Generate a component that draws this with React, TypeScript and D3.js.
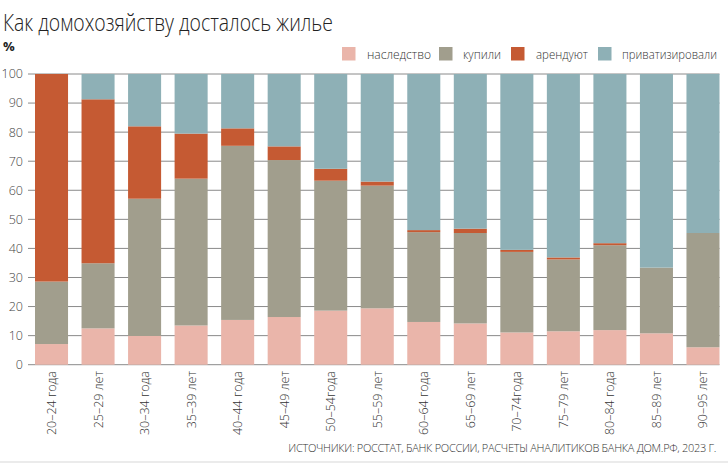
import React from 'react';
import * as d3 from 'd3';

const W = 728;
const H = 464;

const ageGroups = [
  '20–24 года', '25–29 лет', '30–34 года', '35–39 лет', '40–44 года',
  '45–49 лет', '50–54года', '55–59 лет', '60–64 года', '65–69 лет',
  '70–74года', '75–79 лет', '80–84 года', '85–89 лет', '90–95 лет',
];

// shares, %
const inherited = [7.1, 12.5, 9.9, 13.5, 15.4, 16.4, 18.6, 19.4, 14.7, 14.2, 11.1, 11.5, 11.9, 10.8, 6.0];
const bought = [21.5, 22.4, 47.2, 50.5, 59.9, 54.0, 44.7, 42.2, 30.9, 31.1, 27.7, 24.7, 29.2, 22.6, 39.3];
const rented = [71.4, 56.4, 24.9, 15.5, 6.0, 4.7, 4.1, 1.4, 0.7, 1.5, 0.7, 0.7, 0.7, 0, 0];
const privatized = [0, 8.7, 18.0, 20.5, 18.7, 24.9, 32.6, 37.0, 53.7, 53.2, 60.5, 63.1, 58.2, 66.6, 54.7];

const seriesNames = ['наследство', 'купили', 'арендуют', 'приватизировали'];
const seriesColors = ['#eab5aa', '#a19e8d', '#c55a33', '#8eb0b6'];
const yTicks = [0, 10, 20, 30, 40, 50, 60, 70, 80, 90, 100];

const FONT = '"Open Sans", "Noto Sans", sans-serif';

const App: React.FC = () => {
  const rows = ageGroups.map((age, i) => ({
    age,
    s0: inherited[i],
    s1: bought[i],
    s2: rented[i],
    s3: privatized[i],
  }));

  const stack = d3.stack<any>().keys(['s0', 's1', 's2', 's3']);
  const layers = stack(rows);

  const x = d3.scaleBand<string>()
    .domain(ageGroups)
    .range([35, 719.5])
    .paddingInner(0.29)
    .paddingOuter(0);

  const y = d3.scaleLinear().domain([0, 100]).range([364.7, 74]);

  // legend: square x, text x, text width
  const legendItems = [
    { sq: 342, tx: 367, w: 64 },
    { sq: 439, tx: 463, w: 38 },
    { sq: 511, tx: 536, w: 52 },
    { sq: 598, tx: 622, w: 95 },
  ];

  return (
    <svg
      width={W}
      height={H}
      style={{ position: 'absolute', left: 0, top: 0, background: '#fff' }}
      fontFamily={FONT}
    >
      {/* Title */}
      <text
        x={3}
        y={31}
        fontSize={23}
        fontWeight={300}
        fill="#222"
        textLength={330}
        lengthAdjust="spacingAndGlyphs"
      >
        Как домохозяйству досталось жилье
      </text>
      <text x={3} y={51} fontSize={13} fontWeight={700} fill="#222">%</text>

      {/* Legend */}
      {seriesNames.map((name, i) => (
        <g key={name}>
          <rect x={legendItems[i].sq} y={47} width={13.5} height={13.5} fill={seriesColors[i]} />
          <text
            x={legendItems[i].tx}
            y={58.5}
            fontSize={12.5}
            fontWeight={300}
            fill="#333"
            textLength={legendItems[i].w}
            lengthAdjust="spacingAndGlyphs"
          >
            {name}
          </text>
        </g>
      ))}

      {/* Grid */}
      {yTicks.map((t) => (
        <g key={t}>
          <line x1={28} x2={719.5} y1={y(t)} y2={y(t)} stroke="#8a8a8a" strokeWidth={1} />
          <text
            x={23}
            y={y(t)}
            dy="0.35em"
            textAnchor="end"
            fontSize={12.5}
            fontWeight={300}
            fill="#444"
          >
            {t}
          </text>
        </g>
      ))}

      {/* Bars */}
      {layers.map((layer, li) => (
        <g key={li} fill={seriesColors[li]}>
          {layer.map((d, i) => (
            d[1] - d[0] > 0 ? (
              <rect
                key={i}
                x={x(ageGroups[i])}
                y={y(d[1])}
                width={x.bandwidth()}
                height={y(d[0]) - y(d[1])}
              />
            ) : null
          ))}
        </g>
      ))}

      {/* X labels */}
      {ageGroups.map((a) => {
        const cx = (x(a) ?? 0) + x.bandwidth() / 2;
        return (
          <text
            key={a}
            transform={`translate(${cx + 4.5}, 371) rotate(-90)`}
            textAnchor="end"
            fontSize={12.5}
            fontWeight={300}
            fill="#333"
          >
            {a}
          </text>
        );
      })}

      {/* Source */}
      <text
        x={716}
        y={452}
        textAnchor="end"
        fontSize={11}
        fontWeight={300}
        letterSpacing={-0.3}
        fill="#333"
      >
        ИСТОЧНИКИ: РОССТАТ, БАНК РОССИИ, РАСЧЕТЫ АНАЛИТИКОВ БАНКА ДОМ.РФ, 2023 Г.
      </text>
      <line x1={0} x2={W} y1={462} y2={462} stroke="#e4e4e4" strokeWidth={1.5} />
    </svg>
  );
};

export default App;
